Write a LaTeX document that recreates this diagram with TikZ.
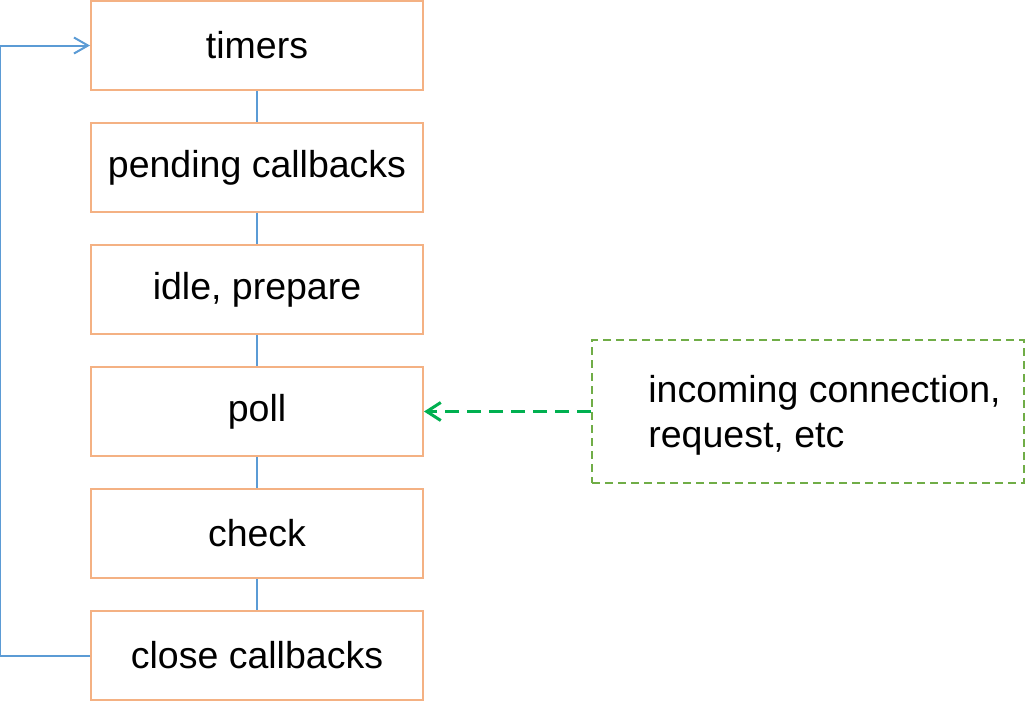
\documentclass[tikz,border=0pt]{standalone}
\usepackage{fontspec}
\setmainfont{Liberation Sans}
\usetikzlibrary{positioning,arrows.meta}
\definecolor{boxorange}{HTML}{F4B183}
\definecolor{loopblue}{HTML}{5B9BD5}
\definecolor{boxgreen}{HTML}{70AD47}
\definecolor{arrowgreen}{HTML}{00B050}
\tikzstyle{phase}=[draw=boxorange,line width=1pt,minimum width=166pt,minimum height=44.5pt,inner sep=0pt]
\tikzstyle{source}=[draw=boxgreen,line width=1pt,dash pattern=on 4pt off 2.5pt,minimum width=216pt,minimum height=71.5pt,inner sep=0pt]
\tikzstyle{link}=[draw=loopblue,line width=1pt]
\tikzstyle{every node}+=[font=\fontsize{18.75}{22.5}\selectfont,node distance=15.5pt]
\newcommand{\linkphases}[1]{
	\foreach \a/\b in {#1}{
		\draw[link] (\a) -- (\b);
	}
}

\begin{document}
\begin{tikzpicture}
\useasboundingbox (0,0) rectangle (512.5pt,-351pt);
\node[phase] (timers) at (128.5pt,-22.75pt) {timers};
\node[phase,below=of timers] (pending) {pending callbacks};
\node[phase,below=of pending] (idle) {idle, prepare};
\node[phase,below=of idle] (poll) {poll};
\node[phase,below=of poll] (check) {check};
\node[phase,below=of check] (close) {close callbacks};

\node[source,right=83.5pt of poll] (incoming) {};
\node[anchor=west,align=left,inner sep=0pt] (incomingtext) at ([xshift=28.5pt,yshift=-2pt]incoming.west) {incoming connection,\\request, etc};

\linkphases{timers/pending,pending/idle,idle/poll,poll/check,check/close}

% loop back from the last phase to the first
\coordinate (loopbot) at ([xshift=-45pt]close.west);
\coordinate (looptop) at ([xshift=-45pt]timers.west);
\draw[link,-{Straight Barb[length=7pt,width=8pt]}] (close.west) -- (loopbot) -- (looptop) -- (timers.west);

\draw[draw=arrowgreen,line width=1.5pt,dash pattern=on 7pt off 4pt,-{Straight Barb[length=7pt,width=9pt]}] (incoming.west) -- (poll.east);
\end{tikzpicture}
\end{document}
